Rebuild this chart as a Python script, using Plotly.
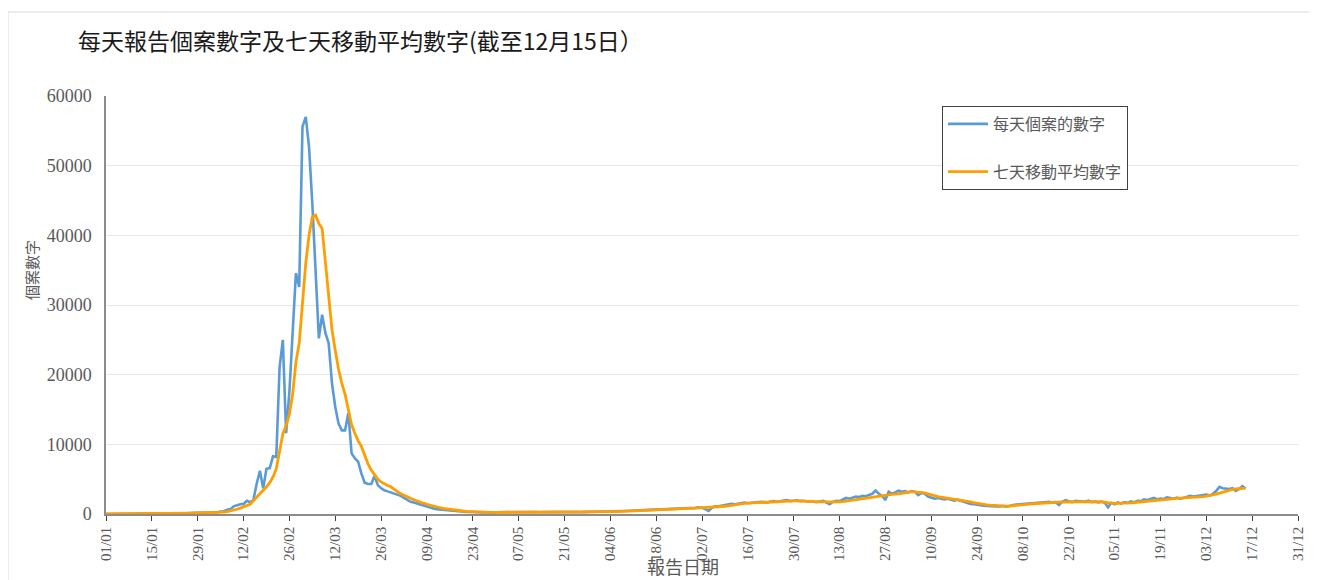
import pandas as pd
import plotly.graph_objects as go

# ---- data (daily reported cases, 2022) ----
daily_jan = [10, 12, 8, 14, 20, 15, 18, 24, 20, 18, 25, 30, 22, 28, 35, 30, 40, 35, 45, 60,
             70, 90, 110, 130, 120, 140, 150, 160, 170, 180, 170]
daily_feb = [180, 130, 150, 250, 350, 400, 620, 700, 1100, 1300, 1400, 1450, 1900, 1700, 2000,
             4300, 6200, 3700, 6500, 6600, 8300, 8200, 21000, 25000, 11600, 17500, 27000, 34600]
daily_mar = [32600, 55600, 57000, 52700, 44600, 35500, 25200, 28600, 26000, 24500, 18800, 15400,
             13000, 12000, 12000, 14500, 8700, 8000, 7500, 5800, 4500, 4300, 4300, 5450, 4150,
             3700, 3400, 3250, 3100, 2950, 2800]
daily_apr = [2600, 2300, 2000, 1750, 1650, 1500, 1400, 1200, 1000, 950, 800, 700, 650, 600, 500,
             450, 400, 380, 350, 320, 300, 280, 250, 270, 240, 230, 250, 220, 240, 230]
daily_may = [250, 260, 230, 270, 280, 240, 260, 270, 250, 280, 260, 290, 250, 240, 260, 280, 270,
             250, 260, 270, 280, 260, 290, 300, 280, 250, 270, 300, 320, 310, 340]
daily_jun = [350, 360, 340, 380, 400, 370, 420, 430, 410, 460, 480, 500, 470, 560, 600, 620, 580,
             650, 640, 680, 700, 690, 720, 760, 800, 780, 820, 850, 830, 880]
daily_jul = [950, 900, 700, 450, 900, 1100, 1100, 1200, 1300, 1350, 1450, 1400, 1500, 1600, 1650,
             1550, 1600, 1700, 1650, 1750, 1700, 1650, 1800, 1850, 1750, 1900, 1950, 2000, 1850,
             1900, 1950]
daily_aug = [1850, 1900, 1800, 1850, 1750, 1700, 1800, 1900, 1650, 1400, 1750, 1900, 1850, 2100,
             2300, 2200, 2400, 2500, 2450, 2600, 2550, 2700, 2900, 3350, 2900, 2600, 2000, 3200,
             2900, 3100, 3350]
daily_sep = [3200, 3300, 3100, 3300, 3200, 2700, 3000, 2900, 2500, 2400, 2200, 2300, 2250, 2100,
             2200, 2000, 1900, 2050, 1900, 1700, 1550, 1450, 1400, 1300, 1250, 1200, 1150, 1100,
             1150, 1100]
daily_oct = [1100, 1150, 1050, 1200, 1300, 1350, 1400, 1400, 1500, 1550, 1500, 1600, 1700, 1650,
             1800, 1750, 1650, 1700, 1300, 1750, 2000, 1850, 1700, 1900, 1850, 1800, 1750, 1900,
             1700, 1800, 1650]
daily_nov = [1750, 1600, 950, 1600, 1400, 1650, 1500, 1700, 1600, 1800, 1700, 1900, 1850, 2100,
             2000, 2200, 2300, 2100, 2200, 2150, 2400, 2300, 2200, 2350, 2200, 2300, 2500, 2600,
             2500, 2600]
daily_dec = [2600, 2700, 2800, 2650, 2900, 3300, 3900, 3700, 3650, 3600, 3700, 3300, 3600, 4000, 3650]

# ---- seven-day moving average ----
ma_jan = [12, 12, 12, 13, 14, 15, 16, 17, 18, 19, 20, 22, 24, 25, 27, 29, 31, 33, 36, 40,
          47, 56, 67, 80, 93, 106, 120, 133, 145, 155, 160]
ma_feb = [160, 160, 165, 180, 215, 260, 330, 420, 540, 680, 840, 990, 1200, 1400, 1900, 2400,
          2900, 3300, 3900, 4500, 5300, 6500, 8800, 11500, 12700, 14300, 17200, 21800]
ma_mar = [24500, 30500, 36000, 40000, 42600, 42900, 41700, 41000, 36500, 31500, 26500, 23500,
          20800, 18800, 17200, 15000, 12800, 11600, 10500, 9700, 8300, 7200, 6300, 5600, 5000,
          4600, 4300, 4100, 3900, 3500, 3200]
ma_apr = [2900, 2650, 2450, 2250, 2050, 1850, 1700, 1550, 1400, 1250, 1100, 1000, 900, 800, 720,
          640, 580, 520, 470, 430, 390, 360, 330, 310, 290, 270, 260, 250, 245, 240]
ma_may = [240, 242, 245, 248, 250, 252, 254, 255, 257, 258, 260, 262, 263, 264, 265, 266, 266,
          265, 264, 265, 266, 268, 270, 272, 274, 276, 280, 284, 288, 293, 298]
ma_jun = [305, 315, 325, 335, 345, 355, 370, 385, 400, 415, 430, 450, 465, 485, 510, 535, 560,
          580, 600, 620, 640, 660, 680, 700, 720, 745, 770, 790, 810, 830]
ma_jul = [880, 910, 930, 930, 920, 940, 980, 1040, 1110, 1180, 1260, 1330, 1400, 1460, 1510,
          1550, 1580, 1600, 1630, 1650, 1670, 1690, 1710, 1740, 1770, 1800, 1830, 1860, 1870,
          1880, 1880]
ma_aug = [1880, 1870, 1860, 1850, 1820, 1790, 1760, 1740, 1720, 1720, 1720, 1720, 1730, 1780,
          1850, 1930, 2010, 2090, 2170, 2250, 2330, 2400, 2470, 2540, 2610, 2680, 2740, 2780,
          2810, 2840, 2870]
ma_sep = [2950, 3050, 3150, 3200, 3180, 3150, 3100, 3030, 2900, 2750, 2600, 2500, 2420, 2350,
          2280, 2220, 2160, 2100, 2040, 1950, 1850, 1740, 1640, 1540, 1450, 1380, 1320, 1270,
          1230, 1200]
ma_oct = [1170, 1150, 1140, 1150, 1180, 1220, 1270, 1320, 1380, 1430, 1470, 1510, 1540, 1570,
          1600, 1630, 1660, 1690, 1710, 1720, 1730, 1740, 1750, 1760, 1770, 1780, 1790, 1800,
          1810, 1820, 1810]
ma_nov = [1780, 1700, 1600, 1540, 1520, 1520, 1530, 1540, 1560, 1600, 1650, 1700, 1760, 1820,
          1880, 1940, 2000, 2040, 2080, 2120, 2160, 2190, 2220, 2250, 2280, 2300, 2320, 2350,
          2380, 2420]
ma_dec = [2460, 2500, 2560, 2640, 2730, 2850, 3000, 3150, 3300, 3420, 3520, 3590, 3640, 3680, 3700]

series_names = ["每天個案的數字", "七天移動平均數字"]
title_text = "每天報告個案數字及七天移動平均數字(截至12月15日）"
x_title = "報告日期"
y_title = "個案數字"

daily_months = [daily_jan, daily_feb, daily_mar, daily_apr, daily_may, daily_jun,
                daily_jul, daily_aug, daily_sep, daily_oct, daily_nov, daily_dec]
ma_months = [ma_jan, ma_feb, ma_mar, ma_apr, ma_may, ma_jun,
             ma_jul, ma_aug, ma_sep, ma_oct, ma_nov, ma_dec]


def build(months):
    xs, ys = [], []
    for m, vals in enumerate(months, start=1):
        xs += list(pd.date_range(f"2022-{m:02d}-01", periods=len(vals), freq="D"))
        ys += list(vals)
    return xs, ys


dx, dy = build(daily_months)
mx, my = build(ma_months)

FONT = "Liberation Serif, Noto Sans CJK TC, serif"
CJK = "Noto Sans CJK TC, sans-serif"
GREY = "#595959"

# page is offset by the body margin (8px); plot area in figure pixels
L, R, T, B = 98, 1290, 88, 506
W, H = 1317, 580
PW, PH = R - L, B - T

fig = go.Figure()
fig.add_trace(go.Scatter(x=dx, y=dy, mode="lines", name=series_names[0], legendgroup="a",
                         line=dict(color="#5B9BD5", width=2.6)))
fig.add_trace(go.Scatter(x=mx, y=my, mode="lines", name=series_names[1], legendgroup="b",
                         line=dict(color="#FF9E00", width=2.8)))

tickvals = list(pd.date_range("2022-01-01", "2022-12-31", freq="14D"))

fig.update_layout(
    width=W, height=H,
    margin=dict(l=L, r=W - R, t=T, b=H - B, autoexpand=False),
    paper_bgcolor="white", plot_bgcolor="white",
    title=dict(text=title_text, x=70 / W, xanchor="left", y=1 - 34 / H, yanchor="middle",
               font=dict(family=CJK, size=23, color="#1a1a1a")),
    showlegend=True,
    legend=dict(x=(934 - L) / PW, y=(B - 98) / PH, xanchor="left", yanchor="top",
                bordercolor="#404040", borderwidth=1, bgcolor="white",
                font=dict(family=CJK, size=16, color=GREY),
                traceorder="grouped", tracegroupgap=24, itemwidth=40),
    xaxis=dict(type="date", range=["2022-01-01", "2022-12-31"],
               tickmode="array", tickvals=tickvals, tickformat="%d/%m", tickangle=-90,
               ticks="outside", ticklen=5, tickcolor="#404040",
               showline=True, linecolor="#8c8c8c", linewidth=1.5, showgrid=False, zeroline=False,
               tickfont=dict(family=FONT, size=15, color=GREY)),
    yaxis=dict(range=[0, 60000], tickmode="linear", tick0=0, dtick=10000, tickformat="d",
               showline=True, linecolor="#8c8c8c", linewidth=1.5,
               showgrid=True, gridcolor="#e6e6e6", gridwidth=1, zeroline=False,
               ticks="", tickfont=dict(family=FONT, size=18, color=GREY), ticksuffix="  "),
    annotations=[
        dict(text=x_title, xref="paper", yref="paper", x=(675 - L) / PW, y=(B - 558) / PH,
             xanchor="center", yanchor="middle", showarrow=False,
             font=dict(family=CJK, size=18, color=GREY)),
        dict(text=y_title, xref="paper", yref="paper", x=(23 - L) / PW, y=(B - 262) / PH,
             xanchor="center", yanchor="middle", showarrow=False, textangle=-90,
             font=dict(family=CJK, size=15, color=GREY)),
    ],
    shapes=[dict(type="rect", xref="paper", yref="paper",
                 x0=(0 - L) / PW, x1=(1340 - L) / PW,
                 y0=(B - 600) / PH, y1=(B - 4) / PH,
                 line=dict(color="#d9d9d9", width=1), fillcolor="rgba(0,0,0,0)", layer="below")],
)

fig.write_html("out.html")
